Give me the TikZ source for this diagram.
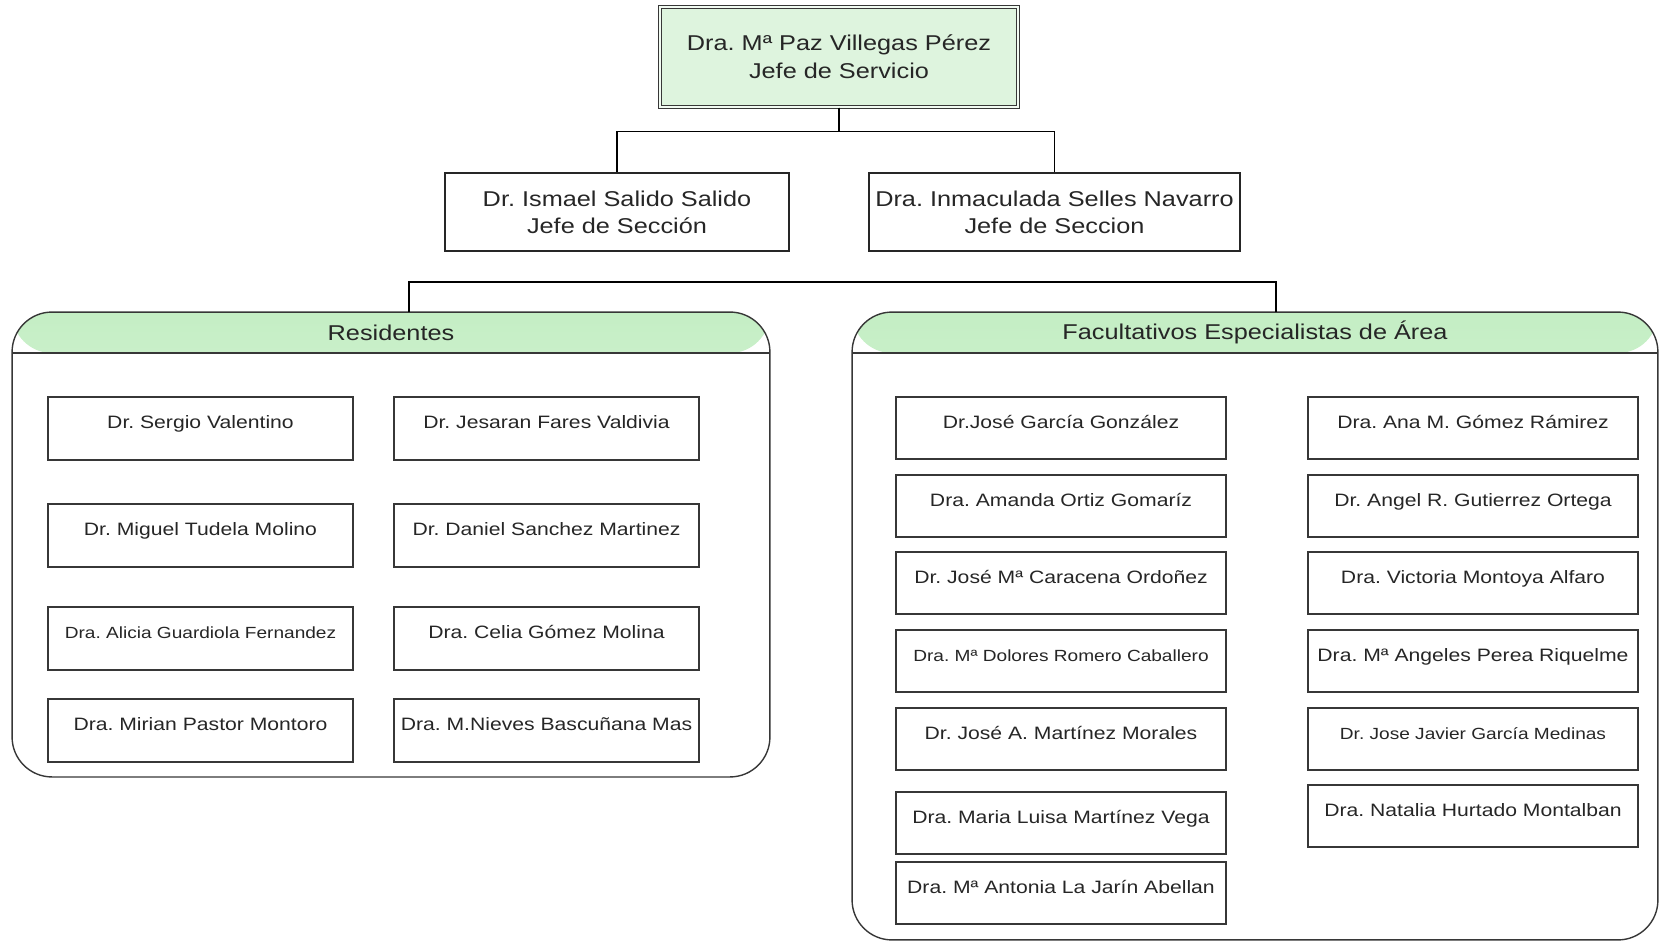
\documentclass[tikz,border=0pt]{standalone}
\usepackage{fontspec}
\setmainfont{Liberation Sans}[FakeStretch=1.18]
\usepackage{tikz}
\definecolor{hdrgreen}{RGB}{196,238,196}
\definecolor{bossgreen}{RGB}{222,244,222}
\definecolor{linegray}{RGB}{55,55,55}
\frenchspacing

\begin{document}
\begin{tikzpicture}[x=0.02cm,y=-0.02cm,
  every node/.append style={text=black!85},
  boss/.style={draw=linegray, line width=0.6pt, double=bossgreen!40!white, double distance=1.4pt, fill=bossgreen, inner sep=0pt, minimum width=7.16cm, minimum height=2cm, align=center, font=\fontsize{12.2}{15.9}\selectfont},
  secc/.style={draw=black!85, line width=1.1pt, inner sep=0pt, minimum height=1.56cm, align=center, font=\fontsize{12.2}{15.4}\selectfont},
  grupo/.style={draw=linegray, line width=0.8pt, rounded corners=0.8cm, inner sep=0pt, outer sep=0pt,
    path picture={\shade[top color=hdrgreen, middle color=hdrgreen!45!white, bottom color=white] (path picture bounding box.north west) rectangle ([yshift=-0.82cm]path picture bounding box.north east);}},
  cabecera/.style={font=\fontsize{12.2}{14}\selectfont},
  doc/.style={draw=linegray, line width=0.8pt, inner sep=0pt, text height=0.63cm, text depth=0.63cm, font=\fontsize{10.2}{12}\selectfont},
  resdoc/.style={doc, minimum width=6.1cm},
  feadoc/.style={doc, minimum width=6.6cm, text height=0.62cm, text depth=0.62cm},
  chico/.style={font=\fontsize{9.2}{11}\selectfont}]
\useasboundingbox (0,0) rectangle (1661,943);

% jefe de servicio y secciones
\node[boss] (jefe) at (839,57) {Dra. Mª Paz Villegas Pérez\\Jefe de Servicio};
\node[secc, minimum width=6.88cm] (secc1) at (617,212) {Dr. Ismael Salido Salido\\Jefe de Sección};
\node[secc, minimum width=7.42cm] (secc2) at (1054.5,212) {Dra. Inmaculada Selles Navarro\\Jefe de Seccion};
\draw[line width=1.1pt] (jefe.south) -- ++(0,24) -| (secc1.north);
\draw[line width=1.1pt] (jefe.south) -- ++(0,24) -| (secc2.north);

% grupos
\node[grupo, minimum width=15.16cm, minimum height=9.3cm] (res) at (391,544.5) {};
\node[grupo, minimum width=16.12cm, minimum height=12.56cm] (fea) at (1255,626) {};
\draw[linegray, line width=0.8pt] ([yshift=-0.82cm]res.north west) -- ([yshift=-0.82cm]res.north east);
\draw[linegray, line width=0.8pt] ([yshift=-0.82cm]fea.north west) -- ([yshift=-0.82cm]fea.north east);
\node[cabecera] (resh) at ([yshift=-0.41cm]res.north) {Residentes};
\node[cabecera] (feah) at ([yshift=-0.41cm]fea.north) {Facultativos Especialistas de Área};

\coordinate (b1) at (409,282);
\coordinate (b2) at (1276,282);
\draw[line width=0.7pt] (b1 |- res.north) -- (b1) -- (b2) -- (b2 |- fea.north);

% residentes
\node[resdoc] (r1) at (200.5,428.5) {Dr. Sergio Valentino};
\node[resdoc] (r2) at (200.5,535.5) {Dr. Miguel Tudela Molino};
\node[resdoc, chico] (r3) at (200.5,638.5) {Dra. Alicia Guardiola Fernandez};
\node[resdoc] (r4) at (200.5,730.5) {Dra. Mirian Pastor Montoro};
\node[resdoc] (r5) at (546.5,428.5) {Dr. Jesaran Fares Valdivia};
\node[resdoc] (r6) at (546.5,535.5) {Dr. Daniel Sanchez Martinez};
\node[resdoc] (r7) at (546.5,638.5) {Dra. Celia Gómez Molina};
\node[resdoc] (r8) at (546.5,730.5) {Dra. M.Nieves Bascuñana Mas};

% facultativos
\node[feadoc] (f1) at (1061,428) {Dr.José García González};
\node[feadoc] (f2) at (1061,506) {Dra. Amanda Ortiz Gomaríz};
\node[feadoc] (f3) at (1061,583) {Dr. José Mª Caracena Ordoñez};
\node[feadoc, chico] (f4) at (1061,661) {Dra. Mª Dolores Romero Caballero};
\node[feadoc] (f5) at (1061,739) {Dr. José A. Martínez Morales};
\node[feadoc] (f6) at (1061,823) {Dra. Maria Luisa Martínez Vega};
\node[feadoc] (f7) at (1061,893) {Dra. Mª Antonia La Jarín Abellan};
\node[feadoc] (f8) at (1473,428) {Dra. Ana M. Gómez Rámirez};
\node[feadoc] (f9) at (1473,506) {Dr. Angel R. Gutierrez Ortega};
\node[feadoc] (f10) at (1473,583) {Dra. Victoria Montoya Alfaro};
\node[feadoc] (f11) at (1473,661) {Dra. Mª Angeles Perea Riquelme};
\node[feadoc, chico] (f12) at (1473,739) {Dr. Jose Javier García Medinas};
\node[feadoc] (f13) at (1473,816) {Dra. Natalia Hurtado Montalban};
\end{tikzpicture}
\end{document}
